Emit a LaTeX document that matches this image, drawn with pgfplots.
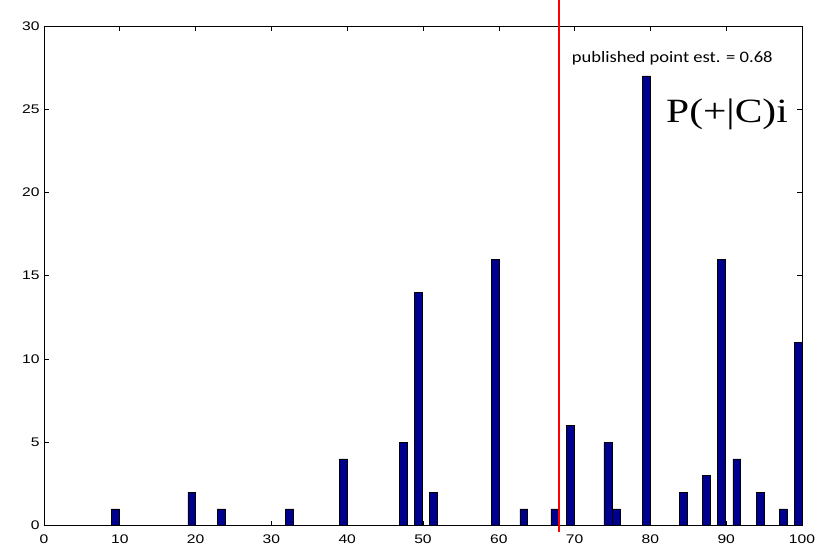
\documentclass[border=0pt]{standalone}
\usepackage{fontspec}
\setmainfont{Liberation Sans}
\newfontfamily\carlito{Carlito}
\newfontfamily\timesf{Liberation Serif}
\usepackage{graphicx}
\usepackage{pgfplots}
\pgfplotsset{compat=1.18}
\definecolor{matnavy}{RGB}{0,0,143}
\begin{document}
\begin{tikzpicture}
\useasboundingbox (0,0) rectangle (825pt,547pt);
\begin{axis}[
  at={(44pt,21.5pt)}, anchor=south west,
  scale only axis, width=758pt, height=499.5pt,
  xmin=0, xmax=100, ymin=0, ymax=30,
  xtick={0,10,...,100}, ytick={0,5,...,30},
  tick align=inside, major tick length=5pt,
  axis line style={line width=0.8pt},
  every tick/.style={black, line width=0.6pt},
  /pgf/number format/assume math mode=true,
  tick label style={font=\fontsize{12.5}{14}\selectfont},
  xticklabel={\scalebox{1.25}[1]{\pgfmathprintnumber{\tick}}},
  yticklabel={\scalebox{1.25}[1]{\pgfmathprintnumber{\tick}}},
  xticklabel style={yshift=-5.3pt},
  yticklabel style={xshift=-1pt},
  clip=false,
]
\addplot[ybar, bar width=1.05, bar shift=0pt, fill=matnavy, draw=black, line width=0.6pt]
coordinates {
(9.4,1) (19.5,2) (23.4,1) (32.4,1) (39.5,4) (47.4,5) (49.4,14) (51.4,2)
(59.5,16) (63.3,1) (67.4,1) (69.4,6) (74.4,5) (75.5,1) (79.5,27)
(84.3,2) (87.4,3) (89.4,16) (91.4,4) (94.5,2) (97.5,1) (99.5,11)
};
\addplot[red, line width=2pt, mark=none] coordinates {(68,-0.39) (68,31.56)};
\node[anchor=base west, inner sep=0pt, font=\carlito\fontsize{16}{18}\selectfont] at (axis cs:69.6,27.8) {\scalebox{1.16}[1]{published point est. = 0.68}};
\node[anchor=base west, inner sep=0pt, font=\timesf\fontsize{34}{38}\selectfont] at (axis cs:82.06,24.2) {\scalebox{1.22}[1]{P(+|C)i}};
\end{axis}
\end{tikzpicture}
\end{document}
